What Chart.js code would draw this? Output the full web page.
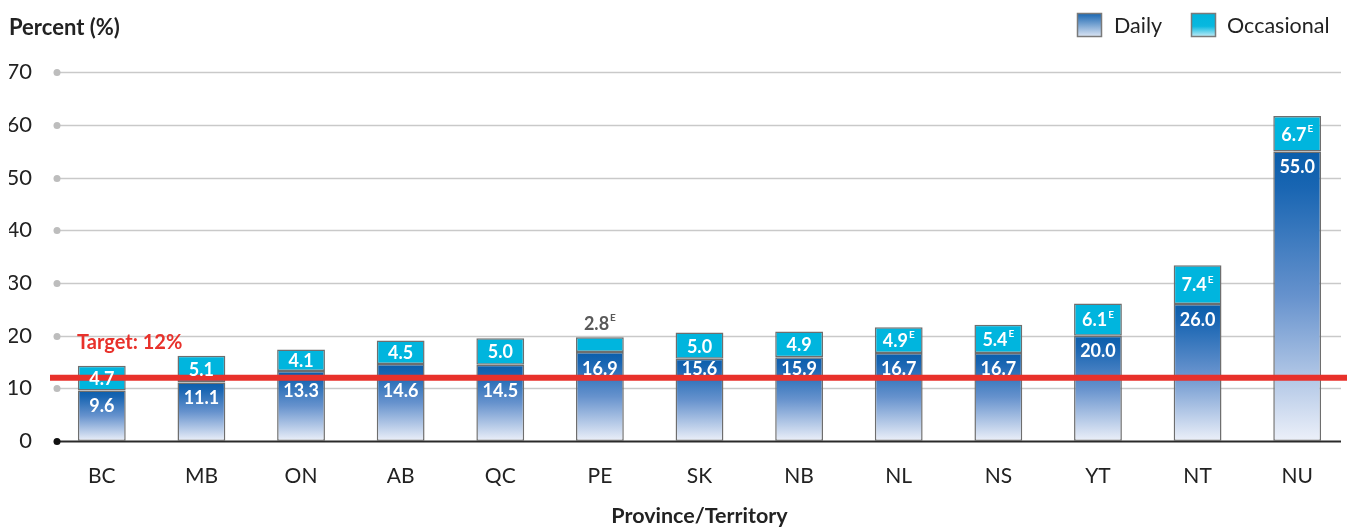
<!DOCTYPE html>
<html>
<head>
<meta charset="utf-8">
<script src="https://cdn.jsdelivr.net/npm/chart.js@4.4.1/dist/chart.umd.min.js"></script>
<style>
  html, body { margin: 0; padding: 0; background: #ffffff; }
  #wrap { width: 1351px; height: 529px; position: relative; }
</style>
</head>
<body>
<div id="wrap"><canvas id="c" width="1351" height="529"></canvas></div>
<script>
// ---- Data ----
const categories = ['BC', 'MB', 'ON', 'AB', 'QC', 'PE', 'SK', 'NB', 'NL', 'NS', 'YT', 'NT', 'NU'];
const daily = [9.6, 11.1, 13.3, 14.6, 14.5, 16.9, 15.6, 15.9, 16.7, 16.7, 20.0, 26.0, 55.0];
const occasional = [4.7, 5.1, 4.1, 4.5, 5.0, 2.8, 5.0, 4.9, 4.9, 5.4, 6.1, 7.4, 6.7];
const occasionalFlag = ['', '', '', '', '', 'E', '', '', 'E', 'E', 'E', 'E', 'E'];
const seriesNames = ['Daily', 'Occasional'];
const yTickValues = [0, 10, 20, 30, 40, 50, 60, 70];
const targetValue = 12;
const targetLabel = 'Target: 12%';
const yTitle = 'Percent (%)';
const xTitle = 'Province/Territory';

const FONT = 'Lato, "Open Sans", sans-serif';
const DAILY_TOP = '#0b5fac';
const OCC_COLOR = '#00b5de';
const RED = '#e8312b';

function dailyGradient(ctx, top, bottom) {
  const g = ctx.createLinearGradient(0, top, 0, bottom);
  g.addColorStop(0, '#0a5eab');
  g.addColorStop(0.12, '#1865b2');
  g.addColorStop(0.5, '#6692cd');
  g.addColorStop(1, '#ecf0f9');
  return g;
}

function drawLabel(ctx, text, sup, cx, cy, color, size) {
  ctx.save();
  ctx.textBaseline = 'middle';
  ctx.textAlign = 'left';
  ctx.font = 'bold ' + size + 'px ' + FONT;
  const w = ctx.measureText(text).width;
  let ws = 0;
  if (sup) {
    ctx.font = 'bold 10px ' + FONT;
    ws = ctx.measureText(sup).width + 1;
  }
  const x0 = cx - (w + ws) / 2;
  ctx.fillStyle = color;
  ctx.font = 'bold ' + size + 'px ' + FONT;
  ctx.fillText(text, x0, cy);
  if (sup) {
    ctx.font = 'bold 10px ' + FONT;
    ctx.fillText(sup, x0 + w + 1, cy - 6);
  }
  ctx.restore();
}

const gridPlugin = {
  id: 'gridPlugin',
  beforeDatasetsDraw(chart) {
    const ctx = chart.ctx;
    const ys = chart.scales.y;
    const ca = chart.chartArea;
    const x0 = ca.left + 5;
    const x1 = ca.right - 6;
    ctx.save();
    yTickValues.forEach(v => {
      const y = Math.round(ys.getPixelForValue(v)) + 0.5;
      ctx.beginPath();
      ctx.moveTo(x0, y);
      ctx.lineTo(x1, y);
      ctx.lineWidth = v === 0 ? 2 : 1.5;
      ctx.strokeStyle = v === 0 ? '#2a2a2a' : '#c9c9c9';
      ctx.stroke();
      ctx.beginPath();
      ctx.arc(x0, y, 3.5, 0, Math.PI * 2);
      ctx.fillStyle = v === 0 ? '#111111' : '#bdbdbd';
      ctx.fill();
    });
    ctx.restore();
  },
  afterDatasetsDraw(chart) {
    const ctx = chart.ctx;
    const ys = chart.scales.y;
    const ca = chart.chartArea;
    const ty = ys.getPixelForValue(targetValue);
    // target line
    ctx.save();
    ctx.beginPath();
    ctx.moveTo(ca.left - 2, ty);
    ctx.lineTo(ca.right, ty);
    ctx.lineWidth = 6;
    ctx.strokeStyle = RED;
    ctx.stroke();
    ctx.font = 'bold 20px ' + FONT;
    ctx.fillStyle = RED;
    ctx.textBaseline = 'middle';
    ctx.textAlign = 'left';
    ctx.fillText(targetLabel, 77, ty - 35);
    ctx.restore();

    // labels
    const mD = chart.getDatasetMeta(0);
    const mO = chart.getDatasetMeta(1);
    mD.data.forEach((el, i) => {
      const top = el.y;
      let cy = top + 16;
      if (Math.abs(cy - ty) < 10) {
        const above = ty - 9;
        if (above - 6 >= top + 2) cy = above; else cy = ty + 13;
      }
      drawLabel(ctx, daily[i].toFixed(1), '', el.x, cy, '#ffffff', 18);
    });
    mO.data.forEach((el, i) => {
      const h = el.base - el.y;
      if (h < 18) {
        drawLabel(ctx, occasional[i].toFixed(1), occasionalFlag[i], el.x, el.y - 13, '#595959', 18);
      } else {
        drawLabel(ctx, occasional[i].toFixed(1), occasionalFlag[i], el.x, (el.y + el.base) / 2 + 1, '#ffffff', 18);
      }
    });
  },
  afterDraw(chart) {
    const ctx = chart.ctx;
    ctx.save();
    // legend
    const items = [
      { x: 1077, tx: 1114, name: seriesNames[0], fill: (() => { const g = ctx.createLinearGradient(0, 13, 0, 37); g.addColorStop(0, '#1563b0'); g.addColorStop(1, '#dfe7f5'); return g; })() },
      { x: 1191, tx: 1227, name: seriesNames[1], fill: (() => { const g = ctx.createLinearGradient(0, 13, 0, 37); g.addColorStop(0, '#00b4dc'); g.addColorStop(0.55, '#08b8df'); g.addColorStop(1, '#c9eef8'); return g; })() }
    ];
    items.forEach(it => {
      ctx.fillStyle = it.fill;
      ctx.fillRect(it.x, 13, 25, 24);
      ctx.lineWidth = 1.5;
      ctx.strokeStyle = '#7a7a7a';
      ctx.strokeRect(it.x + 0.5, 13.5, 24, 23);
      ctx.fillStyle = '#222222';
      ctx.font = '21.5px ' + FONT;
      ctx.textBaseline = 'middle';
      ctx.textAlign = 'left';
      ctx.fillText(it.name, it.tx, 26);
    });
    ctx.restore();
  }
};

const chart = new Chart(document.getElementById('c'), {
  type: 'bar',
  data: {
    labels: categories,
    datasets: [
      {
        label: seriesNames[0],
        data: daily,
        backgroundColor: (c) => {
          const ch = c.chart;
          if (!ch.chartArea || c.type !== 'data') return DAILY_TOP;
          const ys = ch.scales.y;
          return dailyGradient(ch.ctx, ys.getPixelForValue(daily[c.dataIndex]), ys.getPixelForValue(0));
        },
        borderColor: '#6e6e6e',
        borderWidth: 1.5,
        borderSkipped: false,
        barPercentage: 0.48,
        categoryPercentage: 1
      },
      {
        label: seriesNames[1],
        data: occasional,
        backgroundColor: OCC_COLOR,
        borderColor: '#6e6e6e',
        borderWidth: 1.5,
        borderSkipped: false,
        barPercentage: 0.48,
        categoryPercentage: 1
      }
    ]
  },
  options: {
    responsive: false,
    animation: false,
    devicePixelRatio: 1,
    layout: { padding: { top: 0, left: 9, right: 4, bottom: 0 } },
    plugins: {
      legend: { display: false },
      tooltip: { enabled: false },
      title: {
        display: true,
        text: yTitle,
        align: 'start',
        color: '#222222',
        font: { family: FONT, size: 22, weight: 'bold' },
        padding: { top: 15, bottom: 31 }
      }
    },
    scales: {
      x: {
        stacked: true,
        grid: { display: false, drawTicks: false },
        border: { display: false },
        ticks: { color: '#222222', font: { family: FONT, size: 21 }, padding: 23 },
        afterFit: (axis) => { axis.height = 88; },
        title: {
          display: true,
          text: xTitle,
          color: '#222222',
          font: { family: FONT, size: 21.5, weight: 'bold' },
          padding: { top: 0, bottom: 0 }
        }
      },
      y: {
        stacked: true,
        min: 0,
        max: 70,
        afterBuildTicks: (axis) => { axis.ticks = yTickValues.map(v => ({ value: v })); },
        afterFit: (axis) => { axis.width = 43; },
        grid: { display: false, drawTicks: false },
        border: { display: false },
        ticks: { color: '#222222', font: { family: FONT, size: 22 }, padding: 20 }
      }
    }
  },
  plugins: [gridPlugin]
});
</script>
</body>
</html>
